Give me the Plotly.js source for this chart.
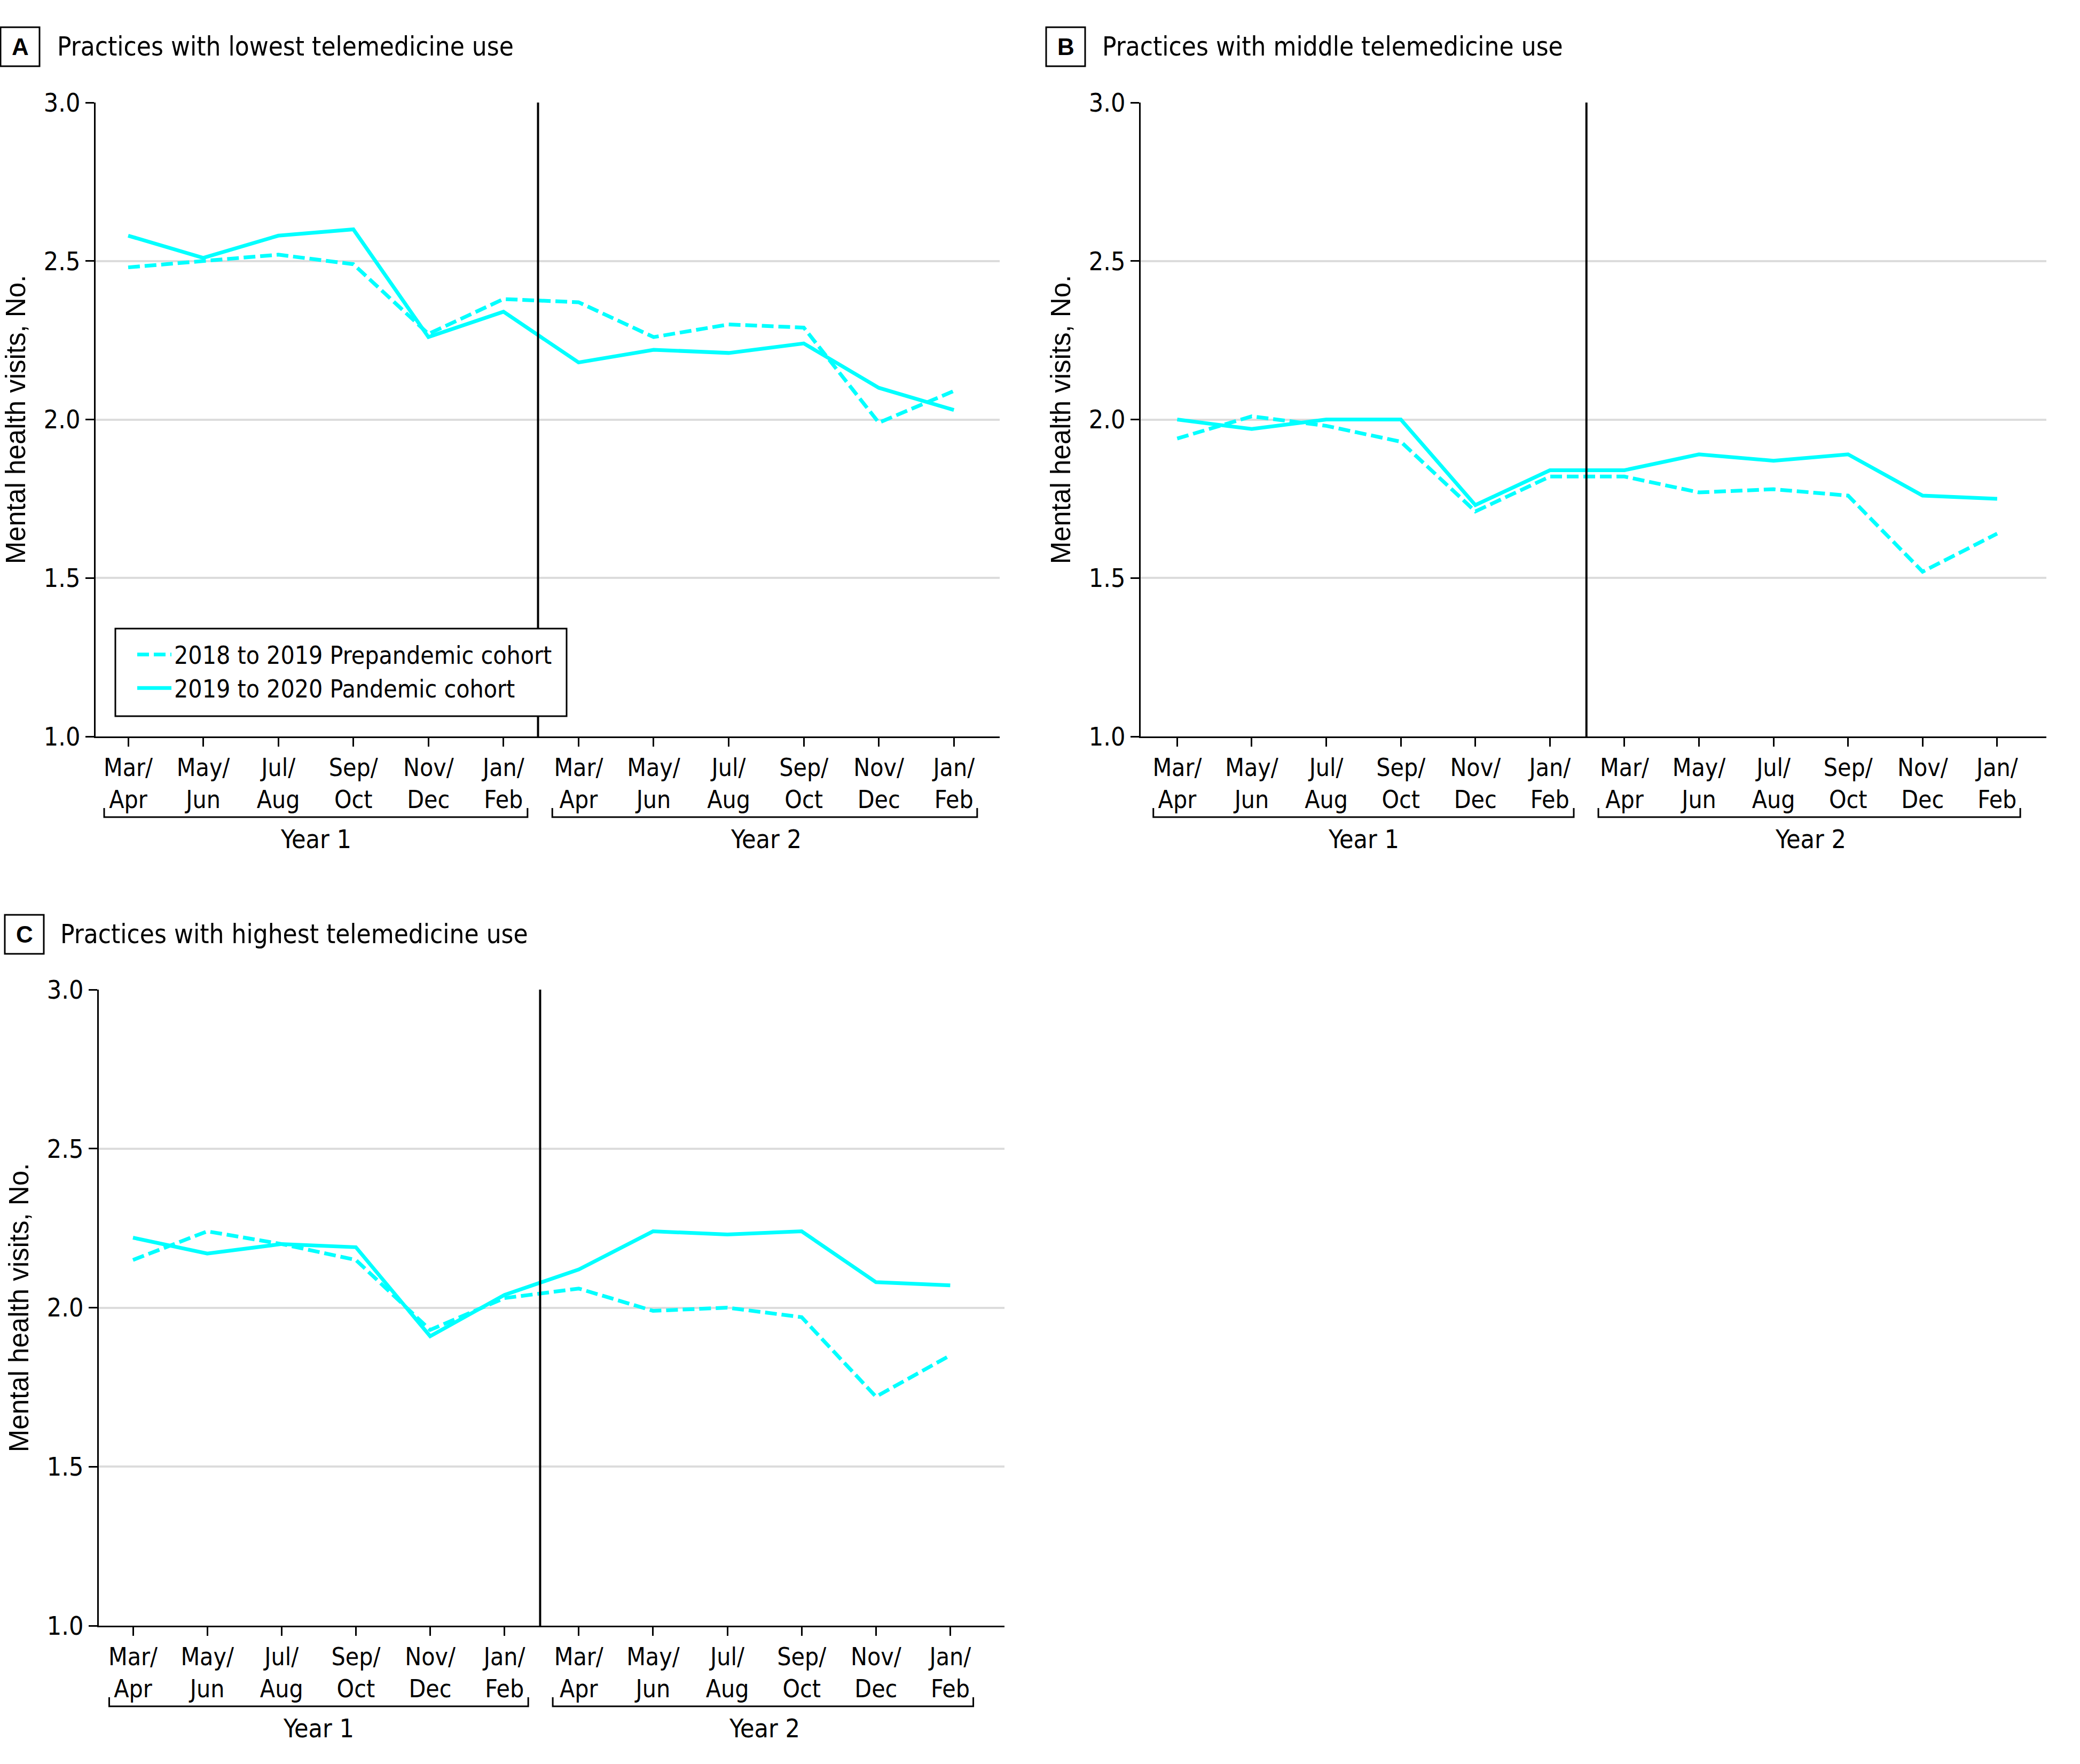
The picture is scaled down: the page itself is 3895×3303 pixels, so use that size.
<!DOCTYPE html>
<html>
<head>
<meta charset="utf-8">
<script src="https://cdn.plot.ly/plotly-3.0.1.min.js"></script>
<style>html,body{margin:0;padding:0;background:#fff;}#chart{width:3895px;height:3303px;}</style>
</head>
<body>
<div id="chart"></div>
<script>
// ---------- data ----------
const periods = [0, 1, 2, 3, 4, 5, 6, 7, 8, 9, 10, 11];
const tickLine1 = ['Mar/', 'May/', 'Jul/', 'Sep/', 'Nov/', 'Jan/', 'Mar/', 'May/', 'Jul/', 'Sep/', 'Nov/', 'Jan/'];
const tickLine2 = ['Apr', 'Jun', 'Aug', 'Oct', 'Dec', 'Feb', 'Apr', 'Jun', 'Aug', 'Oct', 'Dec', 'Feb'];
const yearLabels = ['Year 1', 'Year 2'];
const yearCenters = [2.5, 8.5];
const seriesNames = ['2018 to 2019 Prepandemic cohort', '2019 to 2020 Pandemic cohort'];
const panelLetters = ['A', 'B', 'C'];
const panelTitles = ['Practices with lowest telemedicine use', 'Practices with middle telemedicine use', 'Practices with highest telemedicine use'];
const yTitle = 'Mental health visits, No.';
const yTicks = [1.0, 1.5, 2.0, 2.5, 3.0];

const lowPre  = [2.48, 2.50, 2.52, 2.49, 2.27, 2.38, 2.37, 2.26, 2.30, 2.29, 1.99, 2.09];
const lowPan  = [2.58, 2.51, 2.58, 2.60, 2.26, 2.34, 2.18, 2.22, 2.21, 2.24, 2.10, 2.03];
const midPre  = [1.94, 2.01, 1.98, 1.93, 1.71, 1.82, 1.82, 1.77, 1.78, 1.76, 1.52, 1.64];
const midPan  = [2.00, 1.97, 2.00, 2.00, 1.73, 1.84, 1.84, 1.89, 1.87, 1.89, 1.76, 1.75];
const highPre = [2.15, 2.24, 2.20, 2.15, 1.93, 2.03, 2.06, 1.99, 2.00, 1.97, 1.72, 1.85];
const highPan = [2.22, 2.17, 2.20, 2.19, 1.91, 2.04, 2.12, 2.24, 2.23, 2.24, 2.08, 2.07];

// ---------- layout helpers ----------
const W = 3895, H = 3303;
const px = v => v / W;
const py = v => 1 - v / H;
const CYAN = '#00FFFF';
const NARROW = '"DejaVu Sans Condensed", "Liberation Sans Narrow", "Liberation Sans", sans-serif';
const REG = '"Liberation Sans", Arial, sans-serif';
const tickText = tickLine1.map((t, i) => t + '<br>' + tickLine2[i]);

// panel geometry in pixels
const panels = [
  {x: 'x',  y: 'y',  xl: 179,  xr: 1872, yt: 192,  yb: 1379, range: [-0.434, 11.61], vline: 5.46, box: [1, 74, 51, 124],     titleX: 105,  pre: lowPre,  pan: lowPan},
  {x: 'x2', y: 'y2', xl: 2136, xr: 3832, yt: 192,  yb: 1379, range: [-0.49, 11.66],  vline: 5.49, box: [1959, 2032, 51, 124], titleX: 2062, pre: midPre,  pan: midPan},
  {x: 'x3', y: 'y3', xl: 185,  xr: 1881, yt: 1853, yb: 3044, range: [-0.46, 11.73],  vline: 5.48, box: [9, 82, 1713, 1786],   titleX: 111,  pre: highPre, pan: highPan}
];

const traces = [];
const layout = {
  width: W, height: H,
  margin: {l: 0, r: 0, t: 0, b: 0},
  paper_bgcolor: '#fff', plot_bgcolor: '#fff',
  font: {family: NARROW, size: 46, color: '#000'},
  showlegend: true,
  legend: {
    x: px(228), y: py(1189), xanchor: 'left', yanchor: 'top',
    bgcolor: 'rgba(0,0,0,0)', borderwidth: 0,
    font: {family: NARROW, size: 46, color: '#000'},
    traceorder: 'normal', itemwidth: 64, indentation: 24
  },
  shapes: [], annotations: []
};

panels.forEach((p, i) => {
  const n = i === 0 ? '' : String(i + 1);
  traces.push({
    x: periods, y: p.pre, xaxis: p.x, yaxis: p.y, type: 'scatter', mode: 'lines',
    name: seriesNames[0], showlegend: i === 0, legendrank: 1,
    line: {color: CYAN, width: 7, dash: '22px,9px'}
  });
  traces.push({
    x: periods, y: p.pan, xaxis: p.x, yaxis: p.y, type: 'scatter', mode: 'lines',
    name: seriesNames[1], showlegend: i === 0, legendrank: 2,
    line: {color: CYAN, width: 7}
  });

  layout['xaxis' + n] = {
    domain: [px(p.xl), px(p.xr)], anchor: p.y, range: p.range,
    tickmode: 'array', tickvals: periods, ticktext: tickText,
    ticks: 'outside', ticklen: 16, tickwidth: 3, tickcolor: '#000',
    showline: true, linecolor: '#000', linewidth: 3,
    showgrid: false, zeroline: false, fixedrange: true,
    tickfont: {family: NARROW, size: 46, color: '#000'}
  };
  layout['yaxis' + n] = {
    domain: [py(p.yb), py(p.yt)], anchor: p.x, range: [1, 3],
    tickmode: 'array', tickvals: yTicks, ticktext: yTicks.map(v => v.toFixed(1)),
    ticks: 'outside', ticklen: 16, tickwidth: 3, tickcolor: '#000',
    showline: true, linecolor: '#000', linewidth: 3,
    showgrid: true, gridcolor: '#dcdcdc', gridwidth: 4, zeroline: false, fixedrange: true,
    tickfont: {family: NARROW, size: 48, color: '#000'},
    title: {text: yTitle, font: {family: REG, size: 51, color: '#000'}, standoff: 18}
  };

  // divider between year 1 and year 2
  layout.shapes.push({type: 'line', xref: p.x, yref: p.y + ' domain', x0: p.vline, x1: p.vline, y0: 0, y1: 1,
    line: {color: '#000', width: 4}, layer: 'above'});

  // year brackets
  const yLine = py(p.yb + 151), yTip = py(p.yb + 134);
  [[-0.32, 5.32], [5.65, 11.31]].forEach((b, k) => {
    layout.shapes.push({type: 'path', xref: p.x, yref: 'paper',
      path: `M${b[0]},${yTip} L${b[0]},${yLine} L${b[1]},${yLine} L${b[1]},${yTip}`,
      line: {color: '#000', width: 3}});
    layout.annotations.push({xref: p.x, yref: 'paper', x: yearCenters[k], y: py(p.yb + 192),
      xanchor: 'center', yanchor: 'middle', showarrow: false, text: yearLabels[k],
      font: {family: NARROW, size: 48, color: '#000'}});
  });

  // panel letter box and title
  const bx = p.box;
  layout.shapes.push({type: 'rect', xref: 'paper', yref: 'paper', x0: px(bx[0]), x1: px(bx[1]), y0: py(bx[3]), y1: py(bx[2]),
    line: {color: '#000', width: 3}, fillcolor: 'rgba(0,0,0,0)'});
  layout.annotations.push({xref: 'paper', yref: 'paper', x: px((bx[0] + bx[1]) / 2), y: py((bx[2] + bx[3]) / 2),
    xanchor: 'center', yanchor: 'middle', showarrow: false, text: '<b>' + panelLetters[i] + '</b>',
    font: {family: REG, size: 44, color: '#000'}});
  layout.annotations.push({xref: 'paper', yref: 'paper', x: px(p.titleX), y: py((bx[2] + bx[3]) / 2),
    xanchor: 'left', yanchor: 'middle', showarrow: false, text: panelTitles[i],
    font: {family: NARROW, size: 49, color: '#000'}});
});

// frame of the legend (white box drawn over the divider line in panel A)
layout.shapes.push({type: 'rect', xref: 'paper', yref: 'paper', layer: 'above',
  x0: px(216), x1: px(1061), y0: py(1341), y1: py(1177),
  line: {color: '#000', width: 3}, fillcolor: '#fff'});

Plotly.newPlot('chart', traces, layout, {staticPlot: true, displayModeBar: false});
</script>
</body>
</html>
